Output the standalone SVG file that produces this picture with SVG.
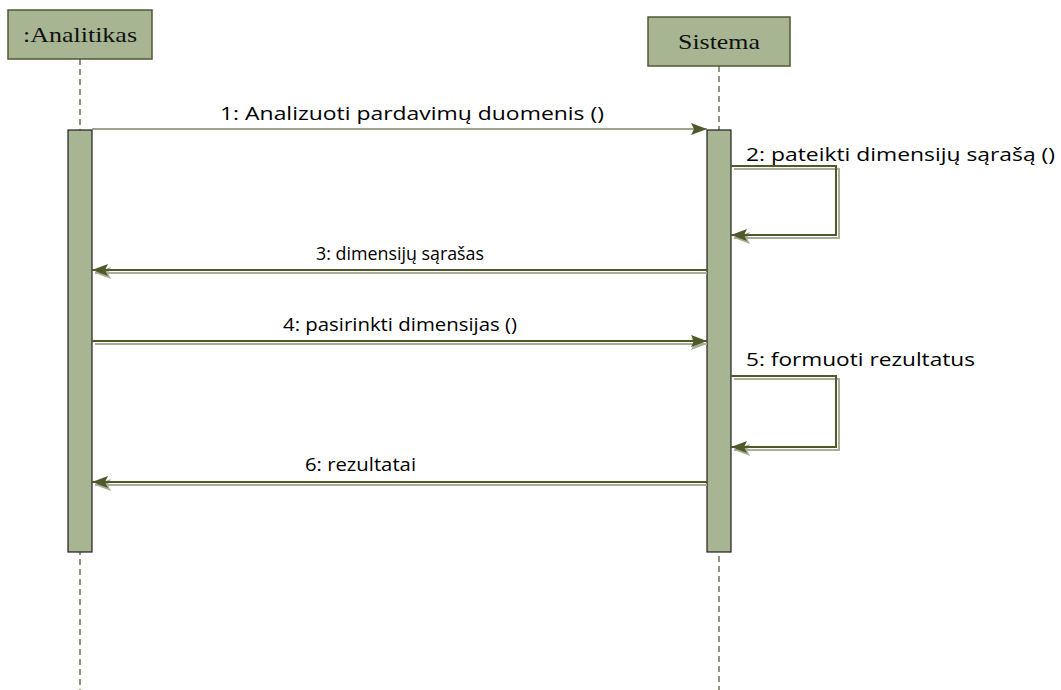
<svg xmlns="http://www.w3.org/2000/svg" width="1061" height="690" viewBox="0 0 1061 690">
<defs>
<style>
.box{fill:#a7b593;stroke:#4f5a33;stroke-width:1.5}
.act{fill:#a7b593;stroke:#1e1e1e;stroke-width:1.2}
.life{stroke:#6b7355;stroke-width:1.5;stroke-dasharray:6,4;fill:none}
.msg{stroke:#4f5a2a;stroke-width:2;fill:none}
.thin{stroke:#7f8668;stroke-width:1.3;fill:none}
.shd{stroke:#a9ae98;stroke-width:2;fill:none}
.lbl{font-family:"Open Sans","Liberation Sans",sans-serif;font-size:17.5px;fill:#000}
.nm{font-family:"Liberation Serif",serif;font-size:22px;fill:#111}
</style>
<marker id="ah" viewBox="0 0 16 12" refX="16" refY="6" markerWidth="16" markerHeight="12" markerUnits="userSpaceOnUse" orient="auto">
<path d="M0,0 L16,6 L0,12 L3,6 Z" fill="#4f5a2a"/>
</marker>
<marker id="ahs" viewBox="0 0 16 12" refX="16" refY="6" markerWidth="16" markerHeight="12" markerUnits="userSpaceOnUse" orient="auto">
<path d="M0,0 L16,6 L0,12 L3,6 Z" fill="#a9ae98"/>
</marker>
</defs>
<g id="lifelines">
<line class="life" x1="80" y1="59" x2="80" y2="690"/>
<line class="life" x1="719" y1="66" x2="719" y2="690"/>
</g>
<g id="analitikas">
<rect class="box" x="8" y="10" width="144" height="49"/>
<text class="nm" x="23" y="42" textLength="114" lengthAdjust="spacingAndGlyphs">:Analitikas</text>
<rect class="act" x="68" y="130" width="24" height="422"/>
</g>
<g id="sistema">
<rect class="box" x="648" y="17" width="142" height="49"/>
<text class="nm" x="678" y="49" textLength="82" lengthAdjust="spacingAndGlyphs">Sistema</text>
<rect class="act" x="707" y="130" width="24" height="422"/>
</g>
<g id="connectors">
<line class="thin" x1="92" y1="129" x2="707" y2="129" marker-end="url(#ah)"/>
<path class="shd" d="M734,169 H839 V238 H734" marker-end="url(#ahs)"/>
<path class="msg" d="M731,166 H836 V235 H731" marker-end="url(#ah)"/>
<line class="shd" x1="707" y1="273" x2="95" y2="273" marker-end="url(#ahs)"/>
<line class="msg" x1="707" y1="270" x2="92" y2="270" marker-end="url(#ah)"/>
<line class="shd" x1="95" y1="344" x2="707" y2="344" marker-end="url(#ahs)"/>
<line class="msg" x1="92" y1="341" x2="707" y2="341" marker-end="url(#ah)"/>
<path class="shd" d="M734,379 H839 V450 H734" marker-end="url(#ahs)"/>
<path class="msg" d="M731,376 H836 V447 H731" marker-end="url(#ah)"/>
<line class="shd" x1="707" y1="485" x2="95" y2="485" marker-end="url(#ahs)"/>
<line class="msg" x1="707" y1="482" x2="92" y2="482" marker-end="url(#ah)"/>
</g>
<g id="labels">
<text class="lbl" x="220" y="120" textLength="384" lengthAdjust="spacingAndGlyphs">1: Analizuoti pardavimų duomenis ()</text>
<text class="lbl" x="746" y="161" textLength="309" lengthAdjust="spacingAndGlyphs">2: pateikti dimensijų sąrašą ()</text>
<text class="lbl" x="316" y="260" textLength="168" lengthAdjust="spacingAndGlyphs">3: dimensijų sąrašas</text>
<text class="lbl" x="283" y="331" textLength="234" lengthAdjust="spacingAndGlyphs">4: pasirinkti dimensijas ()</text>
<text class="lbl" x="746" y="366" textLength="229" lengthAdjust="spacingAndGlyphs">5: formuoti rezultatus</text>
<text class="lbl" x="305" y="471" textLength="111" lengthAdjust="spacingAndGlyphs">6: rezultatai</text>
</g>
</svg>
